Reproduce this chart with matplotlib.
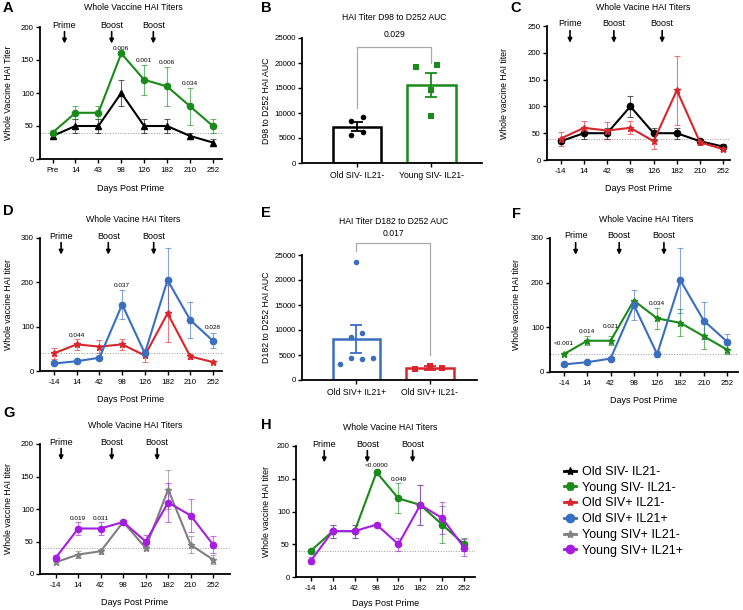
import matplotlib
matplotlib.use('Agg')
import matplotlib.pyplot as plt
from matplotlib.lines import Line2D

plt.rcParams['font.family'] = ['Liberation Sans', 'DejaVu Sans']

W, H = 743, 610

# x categories
days_a = ['Pre', '14', '43', '98', '126', '182', '210', '252']
days = ['-14', '14', '42', '98', '126', '182', '210', '252']

# group means / errors (HAI titer)
old_neg = [35, 50, 50, 100, 50, 50, 35, 25]
old_neg_err = [4, 10, 10, 20, 10, 10, 5, 5]
young_neg = [40, 70, 70, 160, 120, 110, 80, 50]
young_neg_err = [3, 10, 10, 0, 23, 30, 28, 10]
old_pos_il21neg = [40, 60, 55, 60, 35, 130, 33, 20]
old_pos_il21neg_err = [13, 12, 15, 12, 15, 64, 5, 3]
old_pos_il21pos = [17, 22, 30, 150, 40, 205, 115, 68]
old_pos_il21pos_err = [3, 3, 3, 33, 7, 73, 41, 17]
young_pos_il21neg = [18, 30, 35, 80, 40, 130, 45, 22]
young_pos_il21neg_err = [3, 5, 4, 2, 3, 30, 13, 7]
young_pos_il21pos = [25, 70, 70, 80, 50, 110, 90, 45]
young_pos_il21pos_err = [5, 10, 10, 2, 10, 30, 25, 13]

# AUC panels
b_labels = ['Old SIV- IL21-', 'Young SIV- IL21-']
b_means = [7300, 15700]
b_sem = [950, 2400]
b_old_pts = [8500, 9200, 5700, 6300]
b_young_pts = [19300, 19700, 14700, 9500]

e_labels = ['Old SIV+ IL21+', 'Old SIV+ IL21-']
e_means = [8200, 2400]
e_sem = [2800, 350]
e_blue_pts = [23500, 8700, 9500, 3300, 4500, 4200, 4500]
e_red_pts = [2200, 2800, 2400]

BLACK = '#000000'
GREEN = '#1a8a1a'
RED = '#d8262c'
BLUE = '#3a6fbf'
GRAY = '#808080'
PURPLE = '#a51ee0'


def rect(l, t, r, b):
    return [l / W, 1 - b / H, (r - l) / W, (b - t) / H]


def style_axes(ax):
    for s in ['top', 'right']:
        ax.spines[s].set_visible(False)
    for s in ['left', 'bottom']:
        ax.spines[s].set_linewidth(1.3)
    ax.tick_params(labelsize=5.7, length=3, width=1, pad=1.5)
    ax.tick_params(axis='x', pad=3)


fig = plt.figure(figsize=(W / 100, H / 100), dpi=100)


def line_panel(box, xlim, xlabels, series, ymax, ystep, title, tpos, ylabel,
               ylab_x, xlab_y, arrows, pvals, letter, lpos):
    ax = fig.add_axes(rect(*box))
    style_axes(ax)
    x = list(range(len(xlabels)))
    ax.axhline(40, color='#999999', lw=0.7, ls=':', zorder=1)
    for vals, errs, color, marker, ms in series:
        ax.errorbar(x, vals, yerr=errs, fmt='none', ecolor=color, alpha=0.6,
                    elinewidth=0.8, capsize=2, capthick=0.8, zorder=2)
        ax.plot(x, vals, color=color, lw=1.5, marker=marker, ms=ms, zorder=3)
    ax.set_xlim(*xlim)
    ax.set_ylim(0, ymax)
    ax.set_yticks(range(0, ymax + 1, ystep))
    ax.set_xticks(x)
    ax.set_xticklabels(xlabels)
    ax.set_xlabel('Days Post Prime', fontsize=6.5)
    ax.set_ylabel(ylabel, fontsize=6.3)
    l, t, r, b = box
    # label coords: y label anchored at its right edge, x label at its top
    ax.yaxis.set_label_coords((ylab_x + 4 - l) / (r - l), 0.5)
    ax.xaxis.set_label_coords(0.5, (b - (xlab_y - 4)) / (b - t))
    for xp, lab in arrows:
        ax.annotate('', xy=(xp, ymax * 0.875), xytext=(xp, ymax * 0.965),
                    arrowprops=dict(arrowstyle='-|>', color='black', lw=1.2,
                                    mutation_scale=6, shrinkA=0, shrinkB=0),
                    annotation_clip=False)
        ax.text(xp, ymax * 1.015, lab, ha='center', va='center', fontsize=6.5,
                clip_on=False)
    for xi, yv, txt in pvals:
        ax.text(xi, yv, txt, ha='center', va='center', fontsize=4.6,
                clip_on=False)
    fig.text(tpos[0] / W, 1 - tpos[1] / H, title, ha='center', va='center',
             fontsize=6.3)
    fig.text(lpos[0] / W, 1 - lpos[1] / H, letter, ha='left', va='center',
             fontsize=10.5, fontweight='bold')
    return ax


def bar_panel(box, xlim, labels, means, sems, colors, pts, markers, offs,
              title, tpos, ylabel, ylab_x, bracket, ptxt, letter, lpos):
    ax = fig.add_axes(rect(*box))
    style_axes(ax)
    pos = [0, 1]
    ax.bar(pos, means, width=0.65, facecolor='white', edgecolor=colors,
           linewidth=1.8, zorder=1)
    for p, m, s, c in zip(pos, means, sems, colors):
        ax.errorbar([p], [m], yerr=[s], fmt='none', ecolor=c, elinewidth=1.3,
                    capsize=4.5, capthick=1.3, zorder=3)
    for p, vals, c, mk, of in zip(pos, pts, colors, markers, offs):
        ax.scatter([p + o for o in of], vals, color=c, marker=mk, s=16,
                   zorder=4, linewidths=0)
    ax.set_xlim(*xlim)
    ax.set_ylim(0, 25000)
    ax.set_yticks(range(0, 25001, 5000))
    ax.set_xticks(pos)
    ax.set_xticklabels(labels, fontsize=6.2)
    ax.set_ylabel(ylabel, fontsize=6.3)
    l, t, r, b = box
    ax.yaxis.set_label_coords((ylab_x + 4 - l) / (r - l), 0.5)
    yl, ytop, yr, ytxt = bracket
    ax.plot([0, 0, 1, 1], [yl, ytop, ytop, yr], color='#aaaaaa', lw=0.9,
            clip_on=False)
    ax.text(0.5, ytxt, ptxt, ha='center', va='center', fontsize=6.2,
            clip_on=False)
    fig.text(tpos[0] / W, 1 - tpos[1] / H, title, ha='center', va='center',
             fontsize=6.2)
    fig.text(lpos[0] / W, 1 - lpos[1] / H, letter, ha='left', va='center',
             fontsize=10.5, fontweight='bold')
    return ax


# A
line_panel((40, 27, 222, 159), (-0.55, 7.4), days_a,
           [(old_neg, old_neg_err, BLACK, '^', 4),
            (young_neg, young_neg_err, GREEN, 'o', 4.5)],
           200, 50, 'Whole Vaccine HAI Titers', (133, 7), 'Whole Vaccine HAI Titer',
           9, 188, [(0.52, 'Prime'), (2.58, 'Boost'), (4.4, 'Boost')],
           [(3, 168, '0.006'), (4, 149, '0.001'), (5, 146, '0.006'),
            (6, 114, '0.034')], 'A', (3, 8))

# B
bar_panel((302, 38, 482, 163), (-0.74, 1.68), b_labels, b_means, b_sem,
          [BLACK, GREEN], [b_old_pts, b_young_pts], ['o', 's'],
          [[-0.085, 0.08, -0.085, 0.08], [-0.21, 0.07, 0.0, 0.0]],
          'HAI Titer D98 to D252 AUC', (394, 17), 'D98 to D252 HAI AUC', 267,
          (11000, 23300, 20000, 25700), '0.029', 'B', (261, 8))

# C
line_panel((547, 26, 730, 160), (-0.59, 7.29), days,
           [(old_neg, old_neg_err, BLACK, 'o', 4.5),
            (old_pos_il21neg, old_pos_il21neg_err, RED, '*', 4.5)],
           250, 50, 'Whole Vacine HAI Titers', (643, 7), 'Whole vaccine HAI titer',
           505, 188, [(0.4, 'Prime'), (2.29, 'Boost'), (4.37, 'Boost')],
           [], 'C', (510, 8))

# D
line_panel((40, 238, 222, 371), (-0.62, 7.4), days,
           [(old_pos_il21neg, old_pos_il21neg_err, RED, '*', 4.5),
            (old_pos_il21pos, old_pos_il21pos_err, BLUE, 'o', 4.5)],
           300, 100, 'Whole Vacine HAI Titers', (133, 220), 'Whole vaccine HAI titer',
           9, 399, [(0.31, 'Prime'), (2.39, 'Boost'), (4.39, 'Boost')],
           [(1, 81, '0.044'), (3, 193, '0.037'), (7, 98, '0.028')], 'D', (3, 211))

# E
bar_panel((302, 255, 477, 380), (-0.74, 1.64), e_labels, e_means, e_sem,
          [BLUE, RED], [e_blue_pts, e_red_pts], ['o', 's'],
          [[0.0, -0.08, 0.08, -0.23, -0.08, 0.08, 0.23], [-0.2, 0.0, 0.16]],
          'HAI Titer D182 to D252 AUC', (394, 222), 'D182 to D252 HAI AUC', 267,
          (25700, 27300, 5000, 29300), '0.017', 'E', (261, 213))

# F
line_panel((550, 238, 738, 372), (-0.6, 7.47), days,
           [(young_neg, young_neg_err, GREEN, '*', 4.5),
            (old_pos_il21pos, old_pos_il21pos_err, BLUE, 'o', 4.5)],
           300, 100, 'Whole Vacine HAI Titers', (646, 219), 'Whole vaccine HAI titer',
           517, 400, [(0.5, 'Prime'), (2.37, 'Boost'), (4.29, 'Boost')],
           [(0, 63, '<0.001'), (1, 91, '0.014'), (2, 102, '0.021'),
            (4, 154, '0.034')], 'F', (512, 214))

# G
line_panel((40, 444, 230, 574), (-0.7, 7.75), days,
           [(young_pos_il21neg, young_pos_il21neg_err, GRAY, '*', 4.5),
            (young_pos_il21pos, young_pos_il21pos_err, PURPLE, 'o', 4.5)],
           200, 50, 'Whole Vacine HAI Titers', (135, 426), 'Whole vaccine HAI titer',
           9, 602, [(0.24, 'Prime'), (2.49, 'Boost'), (4.51, 'Boost')],
           [(1, 86, '0.019'), (2, 86, '0.031')], 'G', (3, 413))

# H
line_panel((296, 446, 475, 577), (-0.68, 7.5), days,
           [(young_neg, young_neg_err, GREEN, 'o', 4.5),
            (young_pos_il21pos, young_pos_il21pos_err, PURPLE, 'o', 4.5)],
           200, 50, 'Whole Vacine HAI Titers', (390, 427), 'Whole vaccine HAI titer',
           267, 603, [(0.61, 'Prime'), (2.58, 'Boost'), (4.65, 'Boost')],
           [(3, 170, '<0.0000'), (4, 149, '0.049')], 'H', (261, 425))

# legend
leg_items = [('Old SIV- IL21-', BLACK, '*'), ('Young SIV- IL21-', GREEN, 'H'),
             ('Old SIV+ IL21-', RED, '*'), ('Old SIV+ IL21+', BLUE, 'o'),
             ('Young SIV+ IL21-', GRAY, '*'), ('Young SIV+ IL21+', PURPLE, 'o')]
handles = [Line2D([], [], color=c, marker=m, ms=6, lw=2, label=n)
           for n, c, m in leg_items]
fig.legend(handles=handles, loc='upper left',
           bbox_to_anchor=(564 / W, 1 - 466 / H), frameon=False, fontsize=9,
           handlelength=0.96, handletextpad=0.48, labelspacing=0.3,
           borderpad=0, borderaxespad=0)

fig.savefig('out.png', dpi=100)
